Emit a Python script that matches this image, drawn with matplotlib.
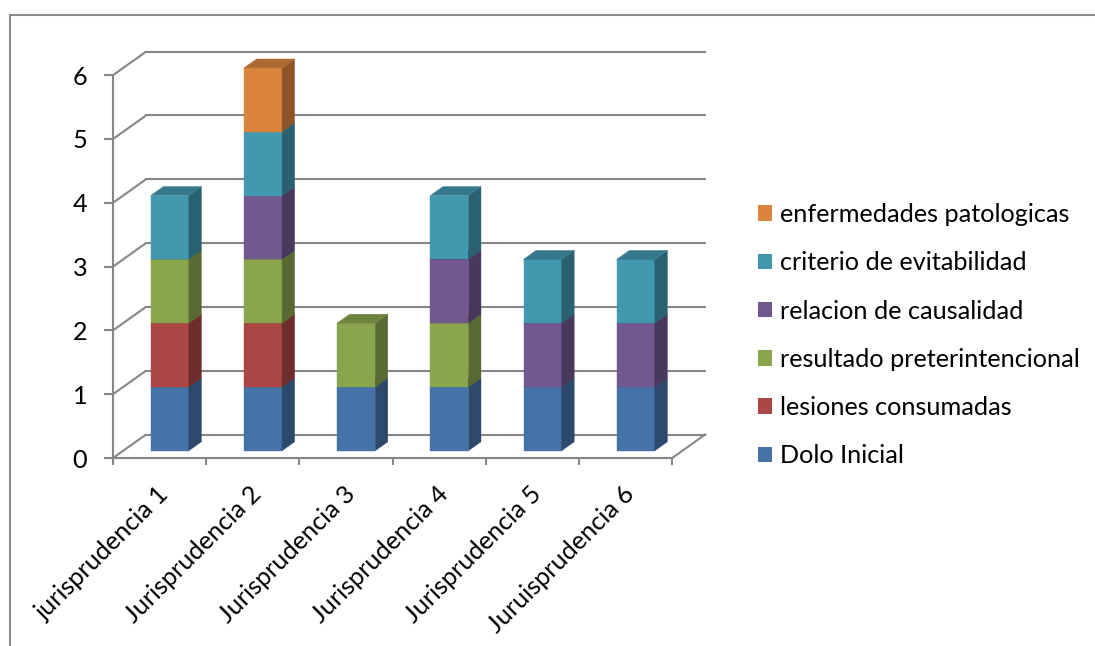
import matplotlib.pyplot as plt
import numpy as np
from matplotlib.patches import Polygon, Patch
from matplotlib.lines import Line2D
from matplotlib.colors import to_rgb
from matplotlib.transforms import ScaledTranslation

plt.rcParams['font.family'] = ['Lato', 'DejaVu Sans']

categories = ["jurisprudencia 1", "Jurisprudencia 2", "Jurisprudencia 3",
              "Jurisprudencia 4", "Jurisprudencia 5", "Juruisprudencia 6"]

series_names = ["Dolo Inicial", "lesiones consumadas", "resultado preterintencional",
                "relacion de causalidad", "criterio de evitabilidad",
                "enfermedades patologicas"]

dolo_inicial = [1, 1, 1, 1, 1, 1]
lesiones_consumadas = [1, 1, 0, 0, 0, 0]
resultado_preterintencional = [1, 1, 1, 1, 0, 0]
relacion_causalidad = [0, 1, 0, 1, 1, 1]
criterio_evitabilidad = [1, 1, 0, 1, 1, 1]
enfermedades_patologicas = [0, 1, 0, 0, 0, 0]

series_values = [dolo_inicial, lesiones_consumadas, resultado_preterintencional,
                 relacion_causalidad, criterio_evitabilidad, enfermedades_patologicas]

colors = ["#4572A7", "#AA4643", "#89A54E", "#71588F", "#4198AF", "#DB843D"]

y_ticks = [0, 1, 2, 3, 4, 5, 6]

# layout of the fake 3d box (pixels of the 1095x646 figure)
W, H = 1095, 646
X0_PX, UX = 113, 93.2      # front-left corner and px per category
Y0_PX, UY = 458, 63.8      # front floor and px per unit
XLIM = (-0.5, 6.5)
YLIM = (-0.2, 6.6)
DX, DY = 33 / UX, 23.5 / UY    # full depth of the box in data units
D0, D1 = 0.31, 0.69            # depth range of the bars
HW = 0.204                     # half width of the bar front
GRID = "#868686"
FS = 18.2


def proj(x, y, d):
    return (x + DX * d, y + DY * d)


def shade(c, f):
    return tuple(np.array(to_rgb(c)) * f)


fig = plt.figure(figsize=(W / 100, H / 100), dpi=100)
left = X0_PX + XLIM[0] * UX
right = X0_PX + XLIM[1] * UX
bottom = Y0_PX - YLIM[0] * UY
top = Y0_PX - YLIM[1] * UY
ax = fig.add_axes([left / W, 1 - bottom / H, (right - left) / W, (bottom - top) / H])
ax.set_xlim(*XLIM)
ax.set_ylim(*YLIM)
ax.patch.set_visible(False)

n = len(categories)

# back wall gridlines and side diagonals
for v in y_ticks:
    ax.plot([0, DX], [v, v + DY], color=GRID, lw=1.5, zorder=1, solid_capstyle='butt')
    ax.plot([DX, n + DX], [v + DY, v + DY], color=GRID, lw=1.5, zorder=1)
# floor right edge
ax.plot([n, n + DX], [0, DY], color=GRID, lw=1.5, zorder=1)

# stacked 3d bars
for i in range(n):
    xl = i + 0.5 - HW
    xr = i + 0.5 + HW
    base = 0
    for k, vals in enumerate(series_values):
        val = vals[i]
        if val == 0:
            continue
        t = base + val
        c = colors[k]
        front = [proj(xl, base, D0), proj(xr, base, D0), proj(xr, t, D0), proj(xl, t, D0)]
        side = [proj(xr, base, D0), proj(xr, base, D1), proj(xr, t, D1), proj(xr, t, D0)]
        lid = [proj(xl, t, D0), proj(xr, t, D0), proj(xr, t, D1), proj(xl, t, D1)]
        ax.add_patch(Polygon(front, closed=True, fc=c, ec=c, lw=0.3, zorder=3))
        ax.add_patch(Polygon(side, closed=True, fc=shade(c, 0.64), ec=shade(c, 0.64),
                             lw=0.3, zorder=3))
        ax.add_patch(Polygon(lid, closed=True, fc=shade(c, 0.8), ec=shade(c, 0.8),
                             lw=0.3, zorder=3))
        base = t

# axes lines
for s in ['top', 'right']:
    ax.spines[s].set_visible(False)
ax.spines['left'].set_position(('data', 0))
ax.spines['left'].set_bounds(0, 6)
ax.spines['bottom'].set_position(('data', 0))
ax.spines['bottom'].set_bounds(0, n)
for s in ['left', 'bottom']:
    ax.spines[s].set_color(GRID)
    ax.spines[s].set_linewidth(1.5)
    ax.spines[s].set_zorder(2)

ax.set_yticks(y_ticks)
ax.set_yticklabels([str(v) for v in y_ticks], fontsize=FS)
ax.tick_params(axis='y', length=6.5, width=1.5, color=GRID, pad=12)

ax.set_xticks(np.arange(n + 1))
ax.set_xticklabels([])
ax.tick_params(axis='x', length=5, width=1.5, color=GRID)

# rotated category labels
offset = ScaledTranslation(-3 / 100, -24 / 100, fig.dpi_scale_trans)
for i, name in enumerate(categories):
    ax.text(i + 0.5, 0, name, transform=ax.transData + offset, rotation=45,
            ha='right', va='top', rotation_mode='anchor', fontsize=FS)

# legend, top entry first
handles = [Patch(facecolor=colors[k], edgecolor='none', label=series_names[k])
           for k in range(len(series_names) - 1, -1, -1)]
fig.legend(handles=handles, loc='upper left', bbox_to_anchor=(758 / W, 1 - 203 / H),
           frameon=False, fontsize=FS, handlelength=0.56, handleheight=0.56,
           handletextpad=0.33, labelspacing=1.0, borderpad=0, borderaxespad=0)

# chart frame
fig.add_artist(Line2D([10 / W, 10 / W], [0, 1 - 15 / H], color="#8C8C8C", lw=1.5))
fig.add_artist(Line2D([10 / W, 1], [1 - 15 / H, 1 - 15 / H], color="#8C8C8C", lw=1.5))

plt.savefig("out.png", dpi=100)
